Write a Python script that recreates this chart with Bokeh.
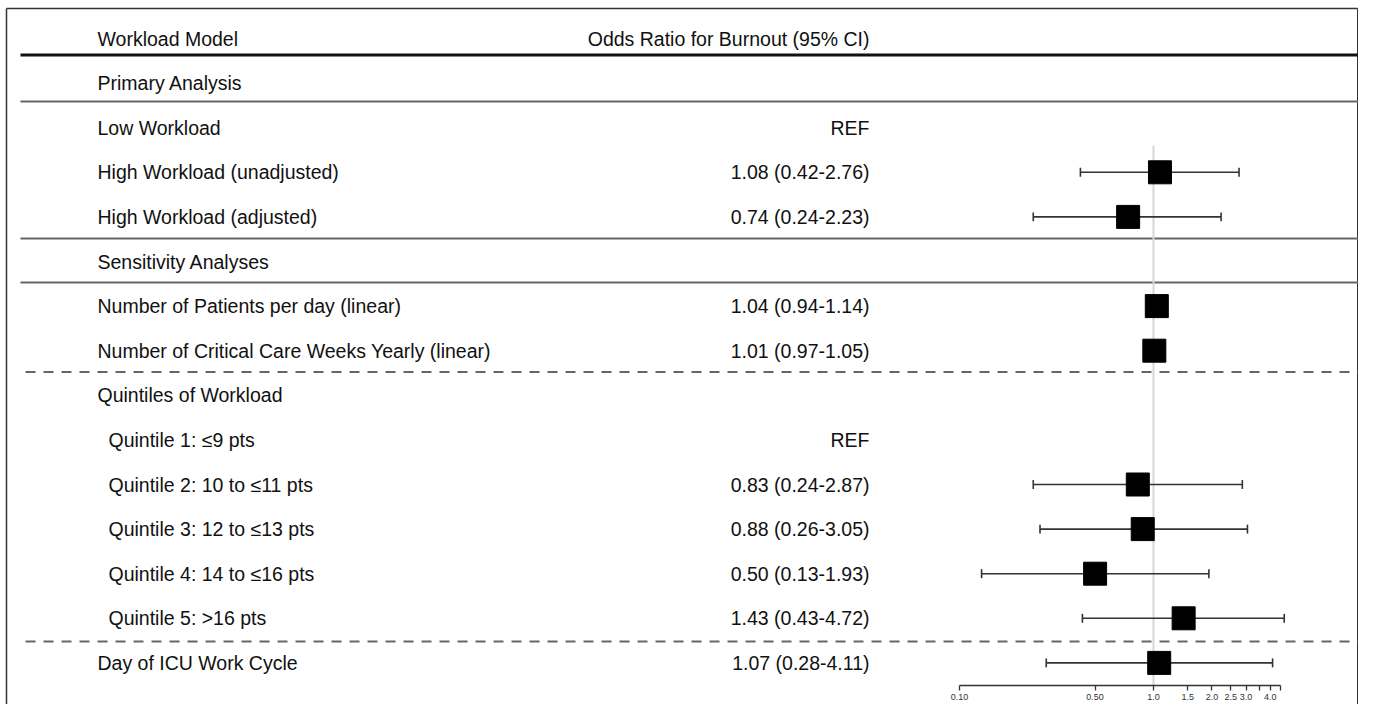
from bokeh.plotting import figure
from bokeh.models import Range1d, LogScale, LogAxis, FixedTicker, ColumnDataSource
from bokeh.core.properties import value
from bokeh.embed import file_html
from bokeh.resources import INLINE

# ---------------- data ----------------
header_left = "Workload Model"
header_right = "Odds Ratio for Burnout (95% CI)"

labels = [
    "Primary Analysis",
    "Low Workload",
    "High Workload (unadjusted)",
    "High Workload (adjusted)",
    "Sensitivity Analyses",
    "Number of Patients per day (linear)",
    "Number of Critical Care Weeks Yearly (linear)",
    "Quintiles of Workload",
    "Quintile 1: \u22649 pts",
    "Quintile 2: 10 to \u226411 pts",
    "Quintile 3: 12 to \u226413 pts",
    "Quintile 4: 14 to \u226416 pts",
    "Quintile 5: >16 pts",
    "Day of ICU Work Cycle",
]
indent = [0, 0, 0, 0, 0, 0, 0, 0, 1, 1, 1, 1, 1, 0]
is_ref = [False, True, False, False, False, False, False, False, True, False, False, False, False, False]
odds = [None, None, 1.08, 0.74, None, 1.04, 1.01, None, None, 0.83, 0.88, 0.50, 1.43, 1.07]
lower = [None, None, 0.42, 0.24, None, 0.94, 0.97, None, None, 0.24, 0.26, 0.13, 0.43, 0.28]
upper = [None, None, 2.76, 2.23, None, 1.14, 1.05, None, None, 2.87, 3.05, 1.93, 4.72, 4.11]

tick_values = [0.1, 0.5, 1.0, 1.5, 2.0, 2.5, 3.0, 3.5, 4.0, 4.5]
tick_labels = ["0.10", "0.50", "1.0", "1.5", "2.0", "2.5", "3.0", "", "4.0", ""]

# ---------------- layout constants ----------------
W, H = 1358, 704
ORIGIN = 0          # image px at figure's top-left
ROW0_PX = 38.0      # image y of header row centre
ROW_STEP = 44.6     # px per row
ONE_PX = 1153.0     # image x of OR = 1
DECADE_PX = 194.0   # px per log10 decade


def row_of(px):
    return (px - ROW0_PX) / ROW_STEP


def or_at(px):
    return 10 ** ((px - ONE_PX) / DECADE_PX)


top_row = row_of(ORIGIN)
bot_row = row_of(ORIGIN + H)

p = figure(
    width=W, height=H, output_backend="svg", toolbar_location=None,
    x_axis_type=None, y_axis_type=None,
    x_range=Range1d(ORIGIN, ORIGIN + W),
    y_range=Range1d(bot_row, top_row),
    min_border=0, min_border_left=0, min_border_right=0,
    min_border_top=0, min_border_bottom=0,
)
p.outline_line_color = None
p.background_fill_color = "white"
p.border_fill_color = "white"
p.extra_x_ranges = {"or": Range1d(or_at(ORIGIN), or_at(ORIGIN + W))}
p.extra_x_scales = {"or": LogScale()}

FONT = value("Liberation Sans")
FS = "19.5px"

# outer border (left, top, right)
bx0, bx1 = 6.0, ORIGIN + W - 0.75
by0 = row_of(8.0)
p.segment(x0=[bx0, bx0, bx1], y0=[bot_row, by0, by0],
          x1=[bx0, bx1, bx1], y1=[by0, by0, bot_row],
          line_color="#333333", line_width=1.5)

# header
p.text(x=[97], y=[0], text=[header_left], text_font=FONT, text_font_size=FS,
       text_baseline="middle", text_align="left", text_color="#111111")
p.text(x=[869], y=[0], text=[header_right], text_font=FONT, text_font_size=FS,
       text_baseline="middle", text_align="right", text_color="#111111")

# separators
p.segment(x0=[20], y0=[row_of(54.5)], x1=[1358], y1=[row_of(54.5)],
          line_color="#111111", line_width=3)
solid_y = [row_of(101), row_of(238), row_of(282)]
p.segment(x0=[20] * 3, y0=solid_y, x1=[1358] * 3, y1=solid_y,
          line_color="#666666", line_width=2)
dash_y = [row_of(371.5), row_of(641)]
p.segment(x0=[25] * 2, y0=dash_y, x1=[1358] * 2, y1=dash_y,
          line_color="#666666", line_width=2, line_dash="10 8")

# row labels
rows = list(range(1, len(labels) + 1))
label_x = [97 + 11 * k for k in indent]
p.text(x=label_x, y=rows, text=labels, text_font=FONT, text_font_size=FS,
       text_baseline="middle", text_align="left", text_color="#111111")

# value column text
val_text = []
for r, o, lo, hi in zip(is_ref, odds, lower, upper):
    if r:
        val_text.append("REF")
    elif o is None:
        val_text.append("")
    else:
        val_text.append(f"{o:.2f} ({lo:.2f}-{hi:.2f})")
p.text(x=[869] * len(rows), y=rows, text=val_text, text_font=FONT, text_font_size=FS,
       text_baseline="middle", text_align="right", text_color="#111111")

# reference line at OR = 1
axis_row = row_of(685)
p.segment(x0=[1.0], y0=[row_of(145)], x1=[1.0], y1=[axis_row],
          line_color="#d6d6d6", line_width=2, x_range_name="or")

# forest data
fr = [r for r, o in zip(rows, odds) if o is not None]
fo = [o for o in odds if o is not None]
fl = [l for l in lower if l is not None]
fu = [u for u in upper if u is not None]
src = ColumnDataSource(dict(y=fr, o=fo, lo=fl, hi=fu,
                            ylo=[y - 0.1 for y in fr], yhi=[y + 0.1 for y in fr]))

p.segment(x0="lo", y0="y", x1="hi", y1="y", source=src, line_color="#333333",
          line_width=1.6, x_range_name="or")
p.segment(x0="lo", y0="ylo", x1="lo", y1="yhi", source=src, line_color="#333333",
          line_width=1.6, x_range_name="or")
p.segment(x0="hi", y0="ylo", x1="hi", y1="yhi", source=src, line_color="#333333",
          line_width=1.6, x_range_name="or")
p.scatter(x="o", y="y", source=src, marker="square", size=23,
          fill_color="black", line_color="black", x_range_name="or")

# log axis
ax = LogAxis(x_range_name="or", fixed_location=axis_row)
ax.ticker = FixedTicker(ticks=tick_values, minor_ticks=[])
ax.major_label_overrides = {t: l for t, l in zip(tick_values, tick_labels)}
ax.bounds = (tick_values[0], tick_values[-1])
ax.axis_line_color = "#333333"
ax.axis_line_width = 1.3
ax.major_tick_line_color = "#333333"
ax.major_tick_line_width = 1.3
ax.major_tick_out = 5
ax.major_tick_in = 0
ax.minor_tick_out = 0
ax.minor_tick_in = 0
ax.major_label_text_font = "Liberation Sans"
ax.major_label_text_font_size = "9px"
ax.major_label_text_color = "#333333"
ax.major_label_standoff = 3
p.add_layout(ax, "below")

open("out.html", "w").write(file_html(p, INLINE))
